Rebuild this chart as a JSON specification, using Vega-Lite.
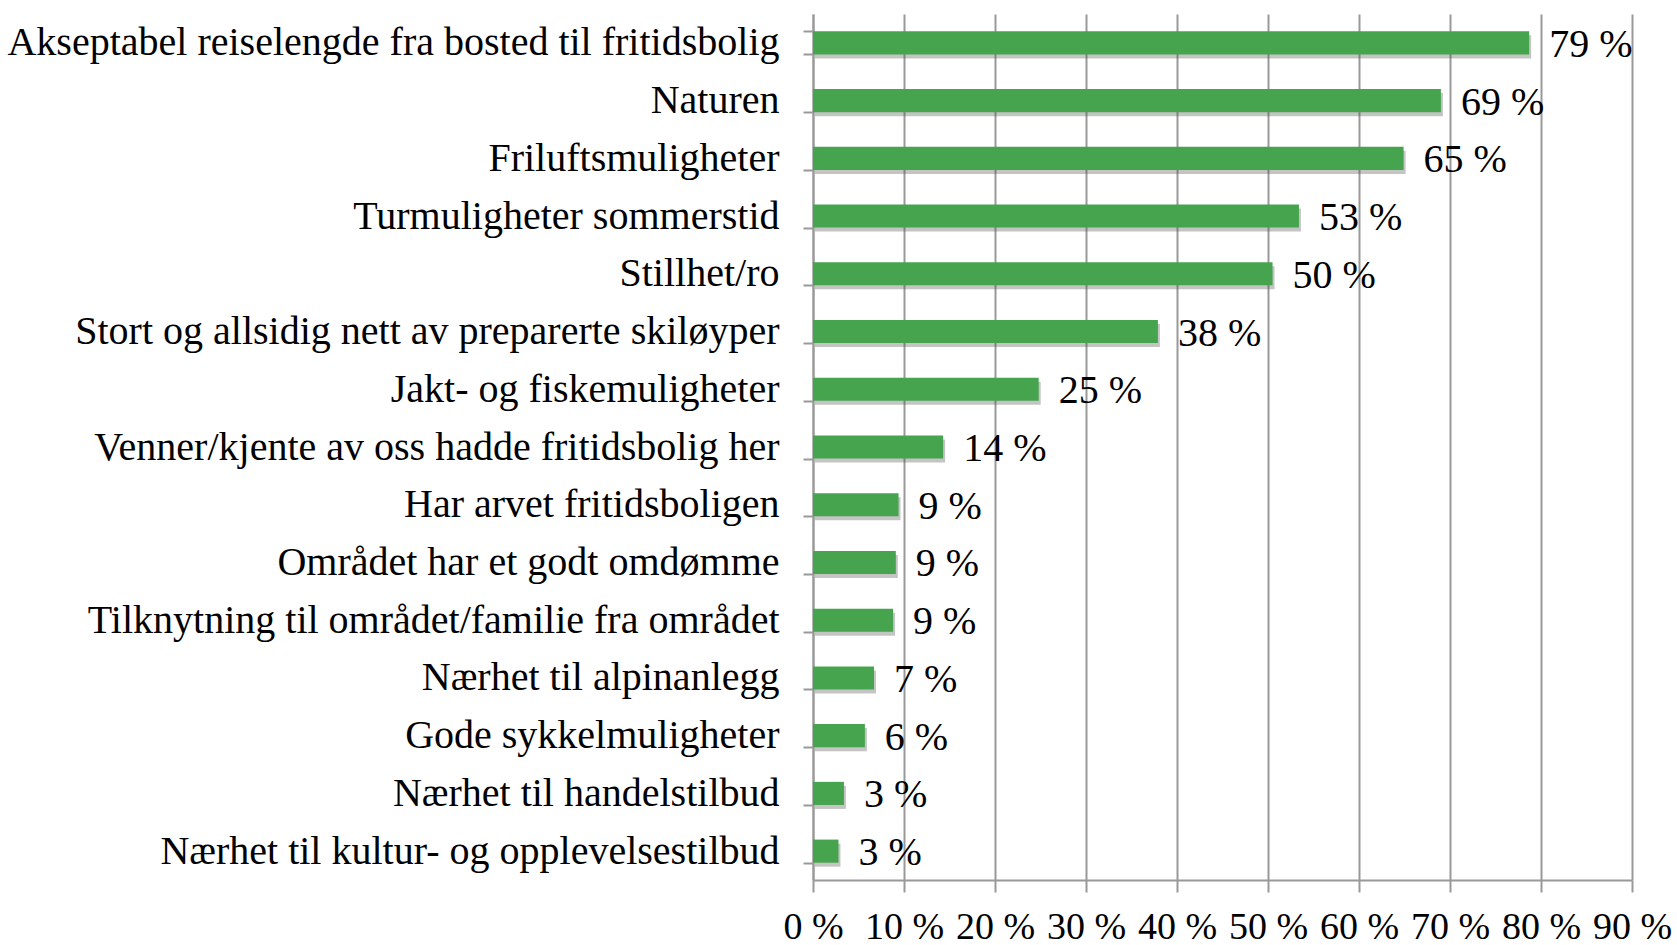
{
  "$schema": "https://vega.github.io/schema/vega-lite/v6.json",
  "width": 819,
  "height": 866,
  "autosize": {"type": "none"},
  "padding": {"left": 813, "top": 14, "right": 45, "bottom": 65},
  "background": "white",
  "config": {
    "view": {"stroke": null},
    "font": "Liberation Serif"
  },
  "data": {
    "values": [
      {"kategori": "Akseptabel reiselengde fra bosted til fritidsbolig", "andel": 78.7, "etikett": "79 %"},
      {"kategori": "Naturen", "andel": 69.0, "etikett": "69 %"},
      {"kategori": "Friluftsmuligheter", "andel": 64.9, "etikett": "65 %"},
      {"kategori": "Turmuligheter sommerstid", "andel": 53.4, "etikett": "53 %"},
      {"kategori": "Stillhet/ro", "andel": 50.5, "etikett": "50 %"},
      {"kategori": "Stort og allsidig nett av preparerte skiløyper", "andel": 37.9, "etikett": "38 %"},
      {"kategori": "Jakt- og fiskemuligheter", "andel": 24.8, "etikett": "25 %"},
      {"kategori": "Venner/kjente av oss hadde fritidsbolig her", "andel": 14.3, "etikett": "14 %"},
      {"kategori": "Har arvet fritidsboligen", "andel": 9.4, "etikett": "9 %"},
      {"kategori": "Området har et godt omdømme", "andel": 9.1, "etikett": "9 %"},
      {"kategori": "Tilknytning til området/familie fra området", "andel": 8.8, "etikett": "9 %"},
      {"kategori": "Nærhet til alpinanlegg", "andel": 6.7, "etikett": "7 %"},
      {"kategori": "Gode sykkelmuligheter", "andel": 5.7, "etikett": "6 %"},
      {"kategori": "Nærhet til handelstilbud", "andel": 3.4, "etikett": "3 %"},
      {"kategori": "Nærhet til kultur- og opplevelsestilbud", "andel": 2.8, "etikett": "3 %"}
    ]
  },
  "encoding": {
    "y": {
      "field": "kategori",
      "type": "nominal",
      "sort": null,
      "scale": {"paddingInner": 0.6, "paddingOuter": 0.3},
      "axis": {
        "title": null,
        "tickBand": "extent",
        "tickSize": 10,
        "tickColor": "#999999",
        "tickWidth": 2,
        "domainColor": "#999999",
        "domainWidth": 2,
        "labelFont": "Liberation Serif",
        "labelFontSize": 40,
        "labelColor": "#000000",
        "labelPadding": 24,
        "labelLimit": 0,
        "grid": false
      }
    },
    "x": {
      "field": "andel",
      "type": "quantitative",
      "scale": {"domain": [0, 90], "nice": false},
      "axis": {
        "title": null,
        "values": [0, 10, 20, 30, 40, 50, 60, 70, 80, 90],
        "labelExpr": "datum.value + ' %'",
        "tickSize": 12,
        "tickColor": "#999999",
        "tickWidth": 2,
        "domainColor": "#999999",
        "domainWidth": 2,
        "grid": true,
        "gridColor": "#999999",
        "gridWidth": 2,
        "labelFont": "Liberation Serif",
        "labelFontSize": 38,
        "labelColor": "#000000",
        "labelPadding": 16,
        "labelFlush": false
      }
    }
  },
  "layer": [
    {
      "mark": {"type": "bar", "color": "#555555", "opacity": 0.35, "yOffset": 4, "xOffset": 2}
    },
    {
      "mark": {"type": "bar", "color": "#46A34E"}
    },
    {
      "mark": {"type": "text", "align": "left", "baseline": "middle", "dx": 20, "dy": 2, "fontSize": 40, "font": "Liberation Serif", "color": "#000000"},
      "encoding": {"text": {"field": "etikett"}}
    }
  ]
}
